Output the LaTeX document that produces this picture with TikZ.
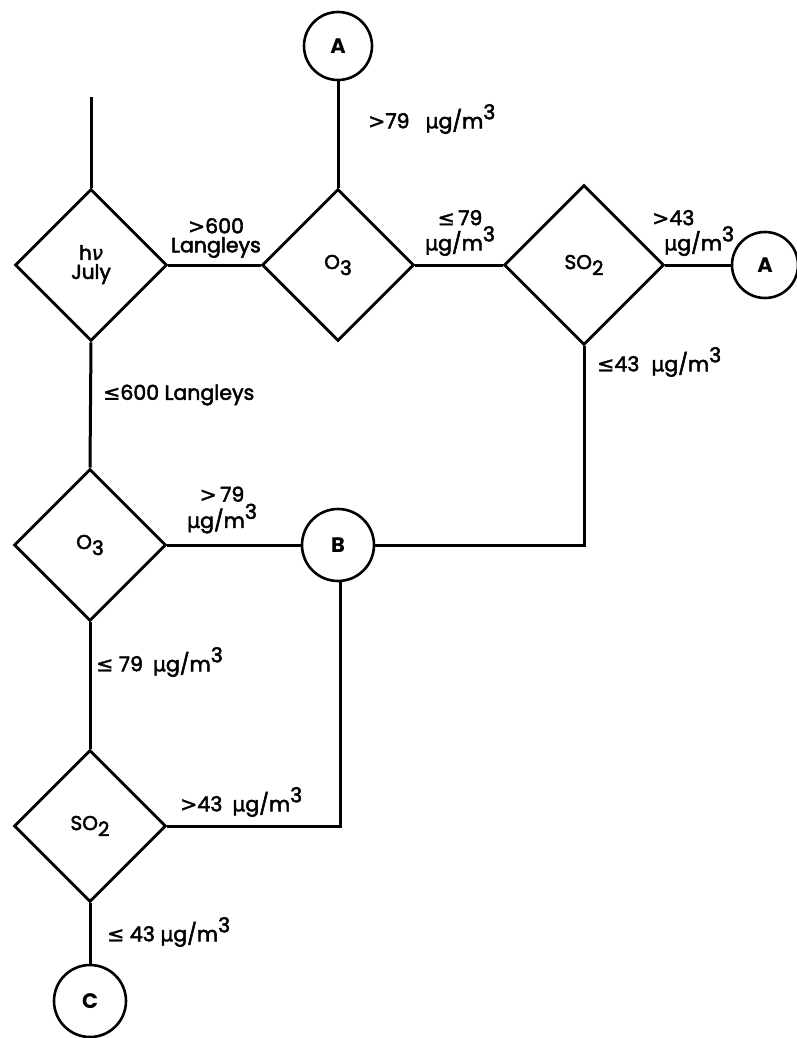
\documentclass[tikz,border=0pt]{standalone}
\usepackage{fontspec}
\setmainfont{Poppins}
\newfontfamily\labf{Poppins}[FakeBold=2.5]
\newfontfamily\symf{DejaVu Sans}[FakeBold=1.5]
\usetikzlibrary{shapes.geometric}
\newcommand{\leqs}{{\symf ≤}}
\newcommand{\gts}{{\symf >}}
\newcommand{\mum}{{\symf µ}g/m\raisebox{0.8ex}{3}}
\newcommand{\lowered}[1]{\raisebox{-0.55ex}{#1}}
\tikzset{
  dec/.style={draw, diamond, shape aspect=1, inner sep=0pt, line width=2.8pt, minimum width=152pt, minimum height=152pt, font=\labf\fontsize{20}{22}\selectfont},
  conn/.style={draw, circle, inner sep=0pt, line width=2.6pt, minimum size=68pt, font=\bfseries\fontsize{21}{23}\selectfont},
  wire/.style={line width=3pt},
  lbl/.style={inner sep=0pt, font=\labf\fontsize{20.5}{22}\selectfont}
}
\begin{document}
\begin{tikzpicture}[x=1pt,y=-1pt]
\useasboundingbox (0,0) rectangle (796,1038);
% decisions
\node[dec] (hv) at (91,265) {\begin{tabular}{@{}c@{}}h{\symf\itshape ν}\\[-3pt]July\end{tabular}};
\node[dec] (o3a) at (338,265) {O\lowered{3}};
\node[dec, minimum width=160pt, minimum height=160pt] (so2a) at (584,265) {SO\lowered{2}};
\node[dec] (o3b) at (90,545) {O\lowered{3}};
\node[dec] (so2b) at (90,826) {SO\lowered{2}};
% connectors
\node[conn] (Atop) at (338,46) {A};
\node[conn, minimum size=66pt] (Aright) at (765,265) {A};
\node[conn, minimum size=72pt] (B) at (338,545) {B};
\node[conn, minimum size=72pt] (C) at (90,1001) {C};
\coordinate (start) at (91,97);
\coordinate (k1) at (584,545);
\coordinate (k2) at (340,826);
% wires
\draw[wire] (start) -- (hv.north);
\draw[wire] (hv.east) -- (o3a.west);
\draw[wire] (Atop.south) -- (o3a.north);
\draw[wire] (o3a.east) -- (so2a.west);
\draw[wire] (so2a.east) -- (Aright.west);
\draw[wire] (so2a.south) -- (k1) -- (B.east);
\draw[wire] (hv.south) -- (o3b.north);
\draw[wire] (o3b.east) -- (B.west);
\draw[wire] (o3b.south) -- (so2b.north);
\draw[wire] (so2b.east) -- (k2) -- (k2 |- B.south);
\draw[wire] (so2b.south) -- (C.north);
% labels
\node[lbl, anchor=west] (l1) at (368,119) {\gts 79\hspace{16pt}\mum};
\node[lbl, align=center] (l2) at (216,238) {\gts 600\\[-3pt]Langleys};
\node[lbl, align=center] (l3) at (460,233) {\leqs\,79\\[0pt]\mum};
\node[lbl, align=left, anchor=west] (l4) at (652,233) {\gts 43\\[0pt]\hspace*{12pt}\mum};
\node[lbl, anchor=west] (l5) at (597,362) {\leqs 43\hspace{12pt}\mum};
\node[lbl, anchor=west] (l6) at (103,395) {\leqs 600 Langleys};
\node[lbl, align=center] (l7) at (222,510) {\gts\,79\\[1pt]\mum};
\node[lbl, anchor=west] (l8) at (96,662) {\leqs\ 79\hspace{10pt}\mum};
\node[lbl, anchor=west] (l9) at (180,802) {\gts 43\hspace{10pt}\mum};
\node[lbl, anchor=west] (l10) at (107,932) {\leqs\ 43 \mum};
\end{tikzpicture}
\end{document}
